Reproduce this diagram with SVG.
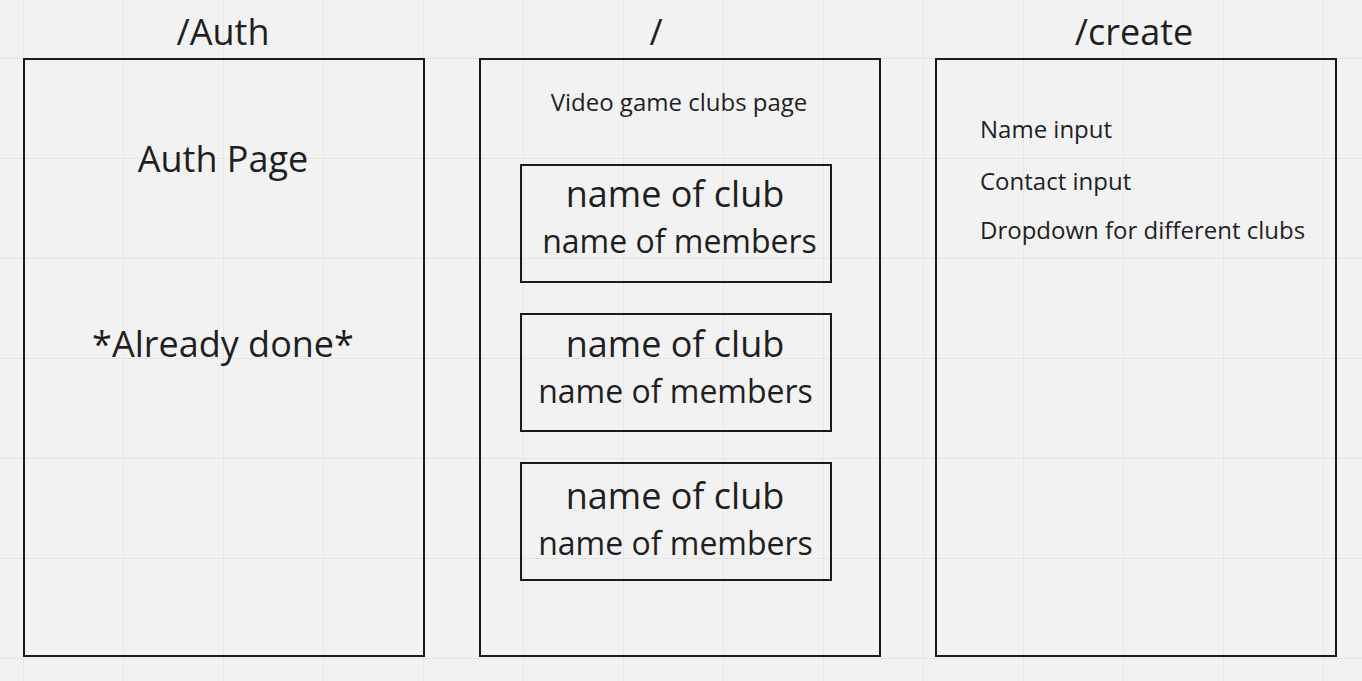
<svg xmlns="http://www.w3.org/2000/svg" width="1362" height="681" viewBox="0 0 1362 681">
<defs>
<pattern id="grid" x="23" y="58" width="100" height="100" patternUnits="userSpaceOnUse">
<path d="M0.5 0 V100 M0 0.5 H100" stroke="#e6e6e6" stroke-width="1" fill="none"/>
</pattern>
</defs>
<style>
.frame{fill:none;stroke:#1a1a1a;stroke-width:2}
.t{font-family:"Open Sans","Noto Sans",sans-serif;fill:#1f1f1f}
.h{font-size:36px;text-anchor:middle}
.m{font-size:36px;text-anchor:middle}
.n{font-size:32px;text-anchor:middle}
.s{font-size:24px}
</style>
<rect width="1362" height="681" fill="#f2f2f2"/>
<rect width="1362" height="681" fill="url(#grid)"/>
<g id="auth">
<text class="t h" x="223" y="45">/Auth</text>
<rect class="frame" x="24" y="59" width="400" height="597"/>
<text class="t m" x="223" y="172">Auth Page</text>
<text class="t m" x="223" y="357">*Already done*</text>
</g>
<g id="home">
<text class="t h" x="656" y="45">/</text>
<rect class="frame" x="480" y="59" width="400" height="597"/>
<text class="t s" x="679" y="111" text-anchor="middle">Video game clubs page</text>
<g id="club1">
<rect class="frame" x="521" y="165" width="310" height="117"/>
<text class="t m" x="675" y="207">name of club</text>
<text class="t n" x="679.5" y="253">name of members</text>
</g>
<g id="club2">
<rect class="frame" x="521" y="314" width="310" height="117"/>
<text class="t m" x="675" y="357">name of club</text>
<text class="t n" x="675.5" y="403">name of members</text>
</g>
<g id="club3">
<rect class="frame" x="521" y="463" width="310" height="117"/>
<text class="t m" x="675" y="509">name of club</text>
<text class="t n" x="675.5" y="555">name of members</text>
</g>
</g>
<g id="create">
<text class="t h" x="1134" y="45">/create</text>
<rect class="frame" x="936" y="59" width="400" height="597"/>
<text class="t s" x="980" y="138">Name input</text>
<text class="t s" x="980" y="190">Contact input</text>
<text class="t s" x="980" y="239">Dropdown for different clubs</text>
</g>
<g id="connectors"/>
</svg>
